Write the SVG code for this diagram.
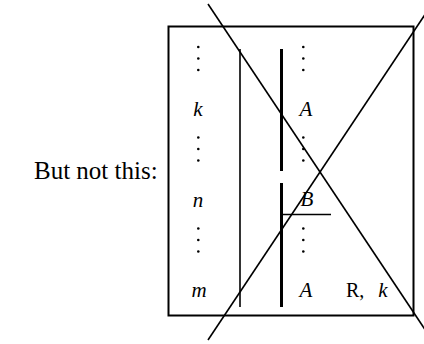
<svg xmlns="http://www.w3.org/2000/svg" width="424" height="344" viewBox="0 0 424 344">
<style>
.ln{stroke:#000;fill:none;stroke-linecap:butt}
.m{font-family:"Liberation Serif",serif;font-style:italic;font-size:21px;fill:#000;text-anchor:middle}
.r{font-family:"Liberation Serif",serif;font-size:20px;fill:#000}
.lbl{font-family:"Liberation Serif",serif;font-size:25px;fill:#000}
.d{fill:#000}
</style>
<rect width="424" height="344" fill="#fff"/>
<text class="lbl" x="34" y="179">But not this:</text>
<g id="table">
<rect class="ln" x="168.5" y="26.5" width="245" height="289" stroke-width="2"/>
<line class="ln" x1="240" y1="49" x2="240" y2="307" stroke-width="1.6"/>
<line class="ln" x1="281.5" y1="49" x2="281.5" y2="171" stroke-width="3"/>
<line class="ln" x1="281.5" y1="183" x2="281.5" y2="307" stroke-width="3"/>
<line class="ln" x1="281" y1="214.5" x2="331" y2="214.5" stroke-width="1.6"/>
</g>
<g id="left-column">
<g class="d"><circle cx="198.3" cy="47" r="1.3"/><circle cx="198.3" cy="58.5" r="1.3"/><circle cx="198.3" cy="70" r="1.3"/></g>
<text class="m" x="198" y="116">k</text>
<g class="d"><circle cx="198.3" cy="137.5" r="1.3"/><circle cx="198.3" cy="149" r="1.3"/><circle cx="198.3" cy="160.5" r="1.3"/></g>
<text class="m" x="198" y="207">n</text>
<g class="d"><circle cx="198.3" cy="228.5" r="1.3"/><circle cx="198.3" cy="240" r="1.3"/><circle cx="198.3" cy="251.5" r="1.3"/></g>
<text class="m" x="199" y="297">m</text>
</g>
<g id="right-column">
<g class="d"><circle cx="303.3" cy="47" r="1.3"/><circle cx="303.3" cy="58.5" r="1.3"/><circle cx="303.3" cy="70" r="1.3"/></g>
<text class="m" x="306" y="116">A</text>
<g class="d"><circle cx="303.3" cy="137.5" r="1.3"/><circle cx="303.3" cy="149" r="1.3"/><circle cx="303.3" cy="160.5" r="1.3"/></g>
<text class="m" x="307" y="206">B</text>
<g class="d"><circle cx="303.3" cy="228.5" r="1.3"/><circle cx="303.3" cy="240" r="1.3"/><circle cx="303.3" cy="251.5" r="1.3"/></g>
<text class="m" x="306" y="297">A</text>
<text class="r" x="346" y="297">R,</text>
<text class="m" x="383" y="297">k</text>
</g>
<g id="connectors">
<line class="ln" x1="208" y1="4" x2="432" y2="340" stroke-width="1.6"/>
<line class="ln" x1="208" y1="340" x2="432" y2="4" stroke-width="1.6"/>
</g>
</svg>
